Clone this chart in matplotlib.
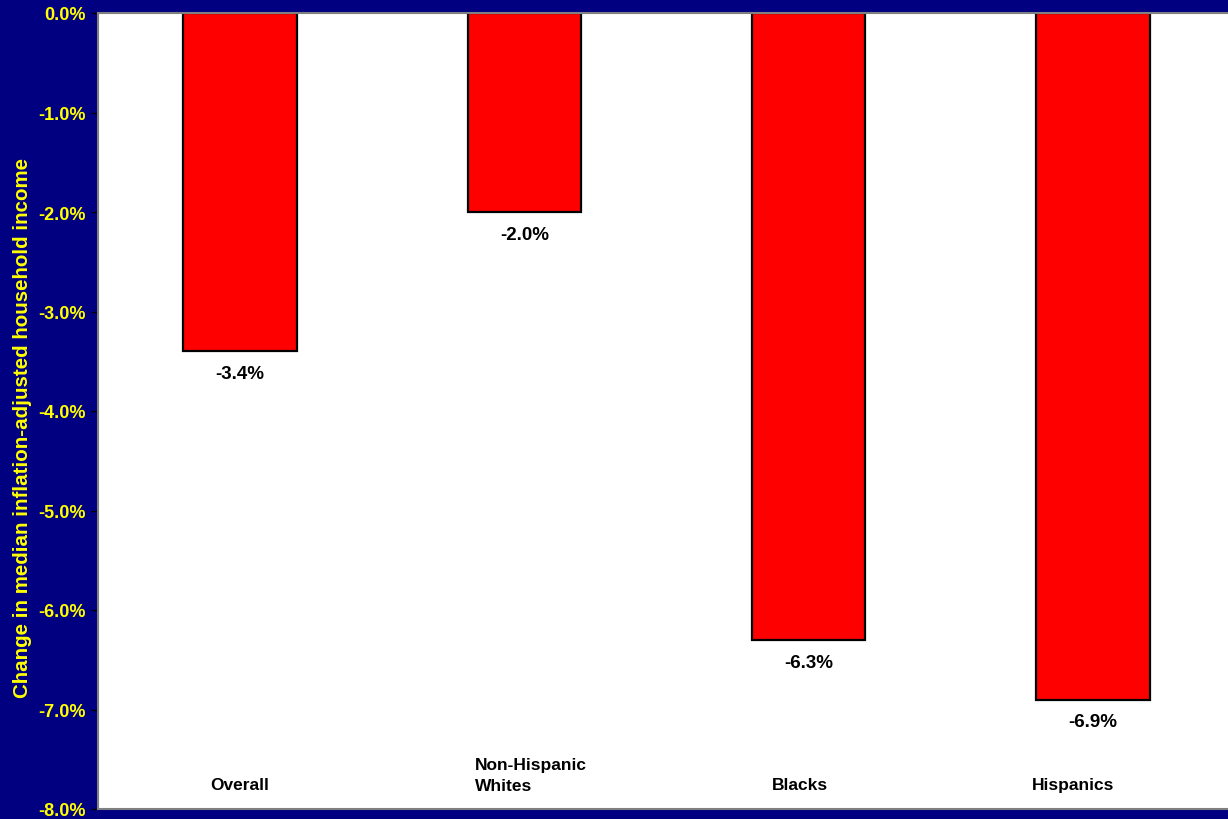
import matplotlib.pyplot as plt
from matplotlib.ticker import FuncFormatter

plt.rcParams["font.family"] = ["Liberation Sans", "DejaVu Sans"]

# Change in median inflation-adjusted household income, by group
groups = ["Overall", "Non-Hispanic\nWhites", "Blacks", "Hispanics"]
changes = [-3.4, -2.0, -6.3, -6.9]
y_ticks = [0, -1, -2, -3, -4, -5, -6, -7, -8]

NAVY = "#000080"
YELLOW = "#FFFF00"

fig = plt.figure(figsize=(12.28, 8.2), dpi=100, facecolor=NAVY)
# plot area runs a little past the right edge of the figure
ax = fig.add_axes([98 / 1228, 10 / 820, 1137 / 1228, 796 / 820])
ax.set_facecolor("white")

x = list(range(len(groups)))
ax.bar(x, changes, width=0.40, color="#FF0000", edgecolor="black",
       linewidth=1.6, zorder=2)

# value labels just under each bar end
for xi, v in zip(x, changes):
    ax.annotate(f"{v:.1f}%", (xi, v), xytext=(0, -10), textcoords="offset points",
                ha="center", va="top", fontsize=13.5, fontweight="bold",
                color="black")

# category names sit inside the plot, near the bottom
label_pos = [(0.0, -7.75, "center"), (0.825, -7.66, "left"),
             (1.97, -7.75, "center"), (2.93, -7.75, "center")]
for (lx, ly, ha), name in zip(label_pos, groups):
    ax.text(lx, ly, name, ha=ha, va="center", fontsize=12.5,
            fontweight="bold", color="black", linespacing=1.45)

ax.set_xlim(-0.5, 3.5)
ax.set_ylim(-8, 0)
ax.set_xticks([])
ax.set_yticks(y_ticks)
ax.yaxis.set_major_formatter(FuncFormatter(lambda v, _: f"{v:.1f}%"))
ax.tick_params(axis="y", direction="out", length=5, width=1, color="black",
               labelcolor=YELLOW, labelsize=13, pad=4)
for lab in ax.get_yticklabels():
    lab.set_fontweight("bold")

for side in ["left", "top", "bottom"]:
    ax.spines[side].set_color("#808080")
    ax.spines[side].set_linewidth(1.5)
ax.spines["right"].set_visible(False)

ax.set_ylabel("Change in median inflation-adjusted household income",
              color=YELLOW, fontsize=14.8, fontweight="bold")
ax.yaxis.set_label_coords(-0.058, 0.48)

fig.savefig("out.png", dpi=100, facecolor=NAVY)
